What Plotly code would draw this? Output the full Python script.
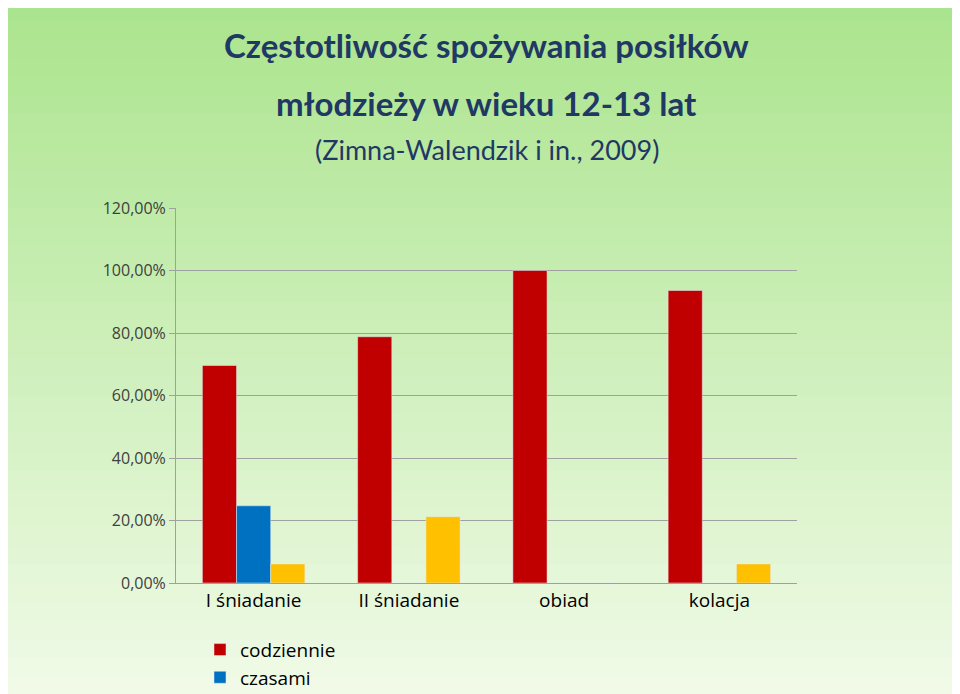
import plotly.graph_objects as go

categories = ["I śniadanie", "II śniadanie", "obiad", "kolacja"]
codziennie = [69.6, 78.8, 100.0, 93.6]
czasami = [24.7, 0, 0, 0]
nigdy = [6.1, 21.2, 0, 6.1]
tick_vals = [0, 20, 40, 60, 80, 100, 120]
tick_text = ["0,00%", "20,00%", "40,00%", "60,00%", "80,00%", "100,00%", "120,00%"]

fig = go.Figure()
fig.add_bar(name="codziennie", x=categories, y=codziennie, marker_color="#c00000")
fig.add_bar(name="czasami", x=categories, y=czasami, marker_color="#0070c0")
fig.add_bar(name="nigdy", x=categories, y=nigdy, marker_color="#ffc000")

shapes = []
n = 40
top = (170, 228, 140)
bot = (244, 252, 236)
for i in range(n):
    t = i / (n - 1)
    c = tuple(int(top[k] + (bot[k] - top[k]) * t) for k in range(3))
    shapes.append(dict(type="rect", xref="paper", yref="paper", layer="below",
                       x0=-1, x1=2, y0=1.6 - i * 2.0 / n, y1=1.6 - (i + 1) * 2.0 / n - 0.01,
                       fillcolor="rgb(%d,%d,%d)" % c, line_width=0))

title_font = dict(size=33, color="#1f3864", family="Lato")
annotations = [
    dict(text="<b>Częstotliwość spożywania posiłków</b>", x=0.5, y=1.435, xref="paper", yref="paper",
         showarrow=False, font=title_font, yanchor="middle"),
    dict(text="<b>młodzieży w wieku 12-13 lat</b>", x=0.5, y=1.28, xref="paper", yref="paper",
         showarrow=False, font=title_font, yanchor="middle"),
    dict(text="(Zimna-Walendzik i in., 2009)", x=0.5, y=1.155, xref="paper", yref="paper",
         showarrow=False, font=dict(size=27, color="#1f3864", family="Lato"), yanchor="middle"),
]

fig.update_layout(
    width=960, height=694,
    paper_bgcolor="#eef9e4", plot_bgcolor="rgba(0,0,0,0)",
    shapes=shapes, annotations=annotations,
    margin=dict(l=168, r=171, t=200, b=119, autoexpand=False),
    barmode="group", bargap=0.34, bargroupgap=0,
    font=dict(family="Open Sans", color="#000"),
    yaxis=dict(range=[0, 120], tickvals=tick_vals, ticktext=tick_text,
               gridcolor="#a0a0a0", showline=True, linecolor="#a0a0a0",
               tickfont=dict(size=16, color="#404040"), ticks="outside", ticklen=6,
               tickcolor="#a0a0a0", zeroline=False),
    xaxis=dict(tickfont=dict(size=19), showline=True, linecolor="#a0a0a0", ticks=""),
    legend=dict(orientation="h", xref="container", yref="container",
                x=0.2, xanchor="left", y=0.035, yanchor="middle",
                font=dict(size=19), entrywidth=270, bgcolor="rgba(0,0,0,0)"),
)
fig.write_html("out.html")
